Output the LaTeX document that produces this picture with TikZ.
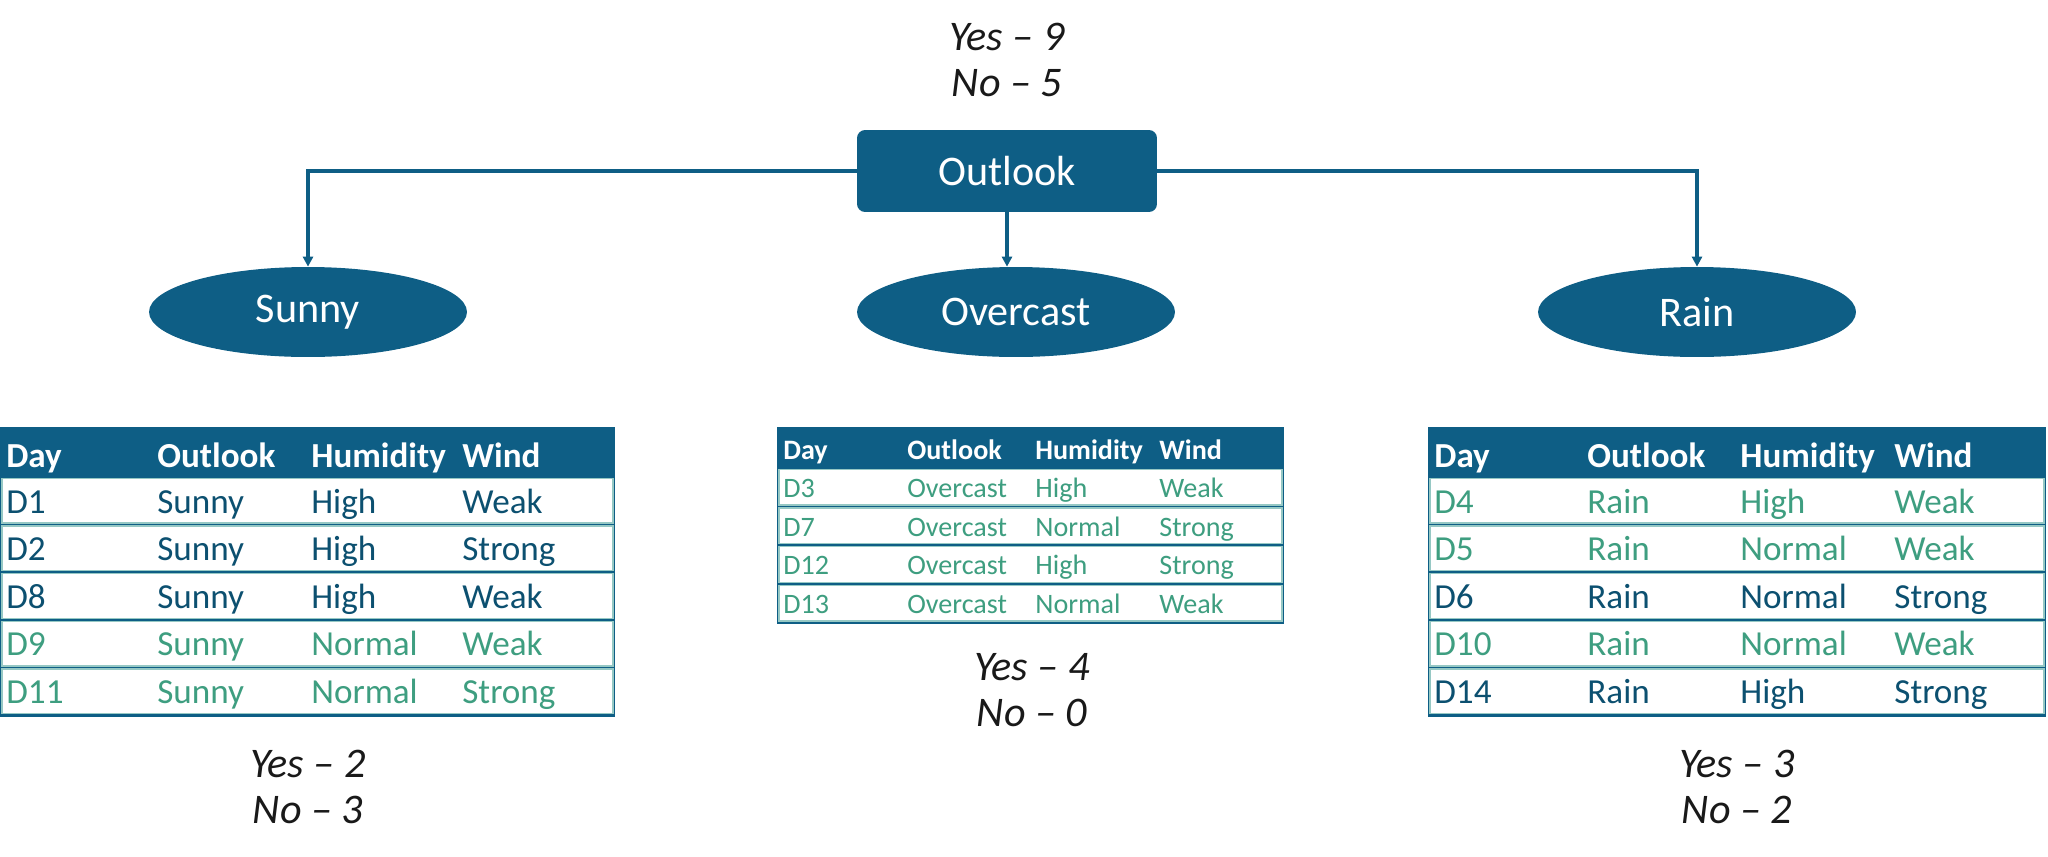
\documentclass[tikz,border=0pt]{standalone}
\usepackage{fontspec}
\setmainfont{Carlito}
\usetikzlibrary{arrows.meta,shapes.geometric}
\definecolor{azul}{RGB}{14,94,133}
\definecolor{azulosc}{RGB}{12,80,112}
\definecolor{verde}{RGB}{62,158,128}
\definecolor{borde}{RGB}{150,200,196}

\begin{document}
\begin{tikzpicture}[x=0.02cm,y=-0.02cm,
 nodo/.style={fill=azul,text=white,inner sep=0pt,font=\fontsize{24}{28}\selectfont},
 rama/.style={draw=azul,line width=1.9pt,-{Triangle[length=0.2cm,width=0.2cm]}},
 cuenta/.style={align=center,text=black!90,font=\fontsize{24}{26.5}\selectfont\itshape},
 fila/.style={fill=white,draw=borde,line width=0.7pt},
 celda/.style={anchor=mid west,inner sep=0pt},
 cabeza/.style={celda,text=white}]
 \useasboundingbox (0,0) rectangle (2048,856);
 \def\fg{\fontsize{20}{24}\selectfont} % tablas laterales
 \def\fc{\fontsize{16}{19}\selectfont} % tabla central
% raiz y ramas
 \node[cuenta] (totRaiz) at (1007,60) {Yes – 9\\No – 5};
 \node[nodo,rounded corners=0.16cm,minimum width=6cm,minimum height=1.64cm] (outlook) at (1007,171) {Outlook};
 \node[nodo,ellipse,minimum width=6.36cm,minimum height=1.8cm] (sunny) at (308,312) {Sunny};
 \node[nodo,ellipse,minimum width=6.36cm,minimum height=1.8cm] (overcast) at (1016,312) {Overcast};
 \node[nodo,ellipse,minimum width=6.36cm,minimum height=1.8cm] (rain) at (1697,312) {Rain};
 \draw[rama] (outlook.west) -| (sunny.north);
 \draw[rama] (outlook.south) -- (outlook.south |- overcast.north);
 \draw[rama] (outlook.east) -| (rain.north);
% tabla Sunny
 \fill[azul] (0,427) rectangle (615,717);
 \foreach \t/\x [count=\j] in {Day/6,Outlook/157,Humidity/311,Wind/462}
  \node[cabeza,font=\fg\bfseries] (sunnyH\j) at (\x,463) {\t};
 \foreach \d/\o/\h/\w/\c [count=\i] in {D1/Sunny/High/Weak/azulosc,D2/Sunny/High/Strong/azulosc,
   D8/Sunny/High/Weak/azulosc,D9/Sunny/Normal/Weak/verde,D11/Sunny/Normal/Strong/verde}{
  \draw[fila] (2,{477+(\i-1)*47.6+1.5}) rectangle (613,{477+\i*47.6-1.5});
  \node[celda,font=\fg,text=\c] (sunnyD\i) at (6,{477+(\i-0.5)*47.6+8}) {\d};
  \node[celda,font=\fg,text=\c] (sunnyO\i) at (157,{477+(\i-0.5)*47.6+8}) {\o};
  \node[celda,font=\fg,text=\c] (sunnyU\i) at (311,{477+(\i-0.5)*47.6+8}) {\h};
  \node[celda,font=\fg,text=\c] (sunnyW\i) at (462,{477+(\i-0.5)*47.6+8}) {\w};
 }
 \node[cuenta] (totSunny) at (308,787) {Yes – 2\\No – 3};
% tabla Overcast
 \fill[azul] (777,427) rectangle (1284,624);
 \foreach \t/\x [count=\j] in {Day/783,Outlook/907,Humidity/1035,Wind/1159}
  \node[cabeza,font=\fc\bfseries] (overH\j) at (\x,455) {\t};
 \foreach \d/\o/\h/\w [count=\i] in {D3/Overcast/High/Weak,D7/Overcast/Normal/Strong,
   D12/Overcast/High/Strong,D13/Overcast/Normal/Weak}{
  \draw[fila] (779,{468+(\i-1)*38.6+1.5}) rectangle (1282,{468+\i*38.6-1.5});
  \node[celda,font=\fc,text=verde] (overD\i) at (783,{468+(\i-0.5)*38.6+6}) {\d};
  \node[celda,font=\fc,text=verde] (overO\i) at (907,{468+(\i-0.5)*38.6+6}) {\o};
  \node[celda,font=\fc,text=verde] (overU\i) at (1035,{468+(\i-0.5)*38.6+6}) {\h};
  \node[celda,font=\fc,text=verde] (overW\i) at (1159,{468+(\i-0.5)*38.6+6}) {\w};
 }
 \node[cuenta] (totOver) at (1032,690) {Yes – 4\\No – 0};
% tabla Rain
 \fill[azul] (1428,427) rectangle (2046,717);
 \foreach \t/\x [count=\j] in {Day/1434,Outlook/1587,Humidity/1740,Wind/1894}
  \node[cabeza,font=\fg\bfseries] (rainH\j) at (\x,463) {\t};
 \foreach \d/\o/\h/\w/\c [count=\i] in {D4/Rain/High/Weak/verde,D5/Rain/Normal/Weak/verde,
   D6/Rain/Normal/Strong/azulosc,D10/Rain/Normal/Weak/verde,D14/Rain/High/Strong/azulosc}{
  \draw[fila] (1430,{477+(\i-1)*47.6+1.5}) rectangle (2044,{477+\i*47.6-1.5});
  \node[celda,font=\fg,text=\c] (rainD\i) at (1434,{477+(\i-0.5)*47.6+8}) {\d};
  \node[celda,font=\fg,text=\c] (rainO\i) at (1587,{477+(\i-0.5)*47.6+8}) {\o};
  \node[celda,font=\fg,text=\c] (rainU\i) at (1740,{477+(\i-0.5)*47.6+8}) {\h};
  \node[celda,font=\fg,text=\c] (rainW\i) at (1894,{477+(\i-0.5)*47.6+8}) {\w};
 }
 \node[cuenta] (totRain) at (1737,787) {Yes – 3\\No – 2};
\end{tikzpicture}
\end{document}
